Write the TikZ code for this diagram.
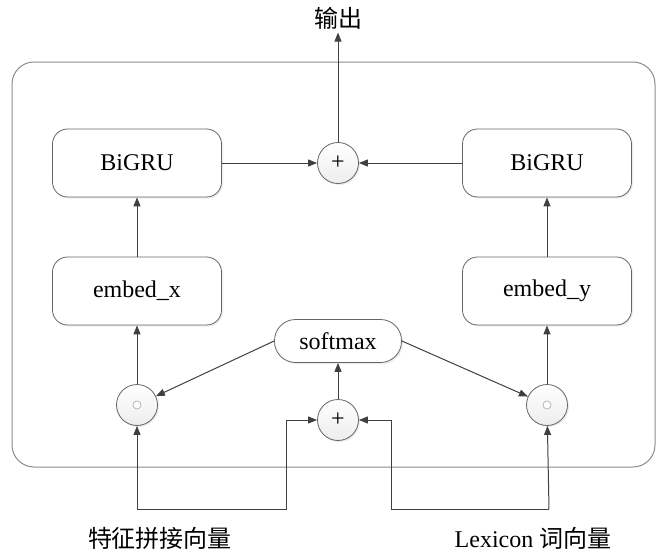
\documentclass[tikz,border=0pt]{standalone}
\usepackage{fontspec}
\setmainfont{Liberation Serif}
\newfontfamily\cjk{Noto Sans CJK SC}
\usetikzlibrary{arrows.meta,shadows}
\definecolor{ln}{HTML}{404040}
\begin{document}
\begin{tikzpicture}[x=1pt,y=-1pt,
  every node/.style={font=\fontsize{24}{28}\selectfont},
  rbox/.style={draw=ln!80, line width=0.8pt, rounded corners=15pt, minimum width=169pt, minimum height=68pt, fill=white, drop shadow={opacity=0.15, shadow xshift=1.5pt, shadow yshift=-1.5pt}},
  pill/.style={draw=ln!80, line width=0.8pt, rounded corners=21pt, minimum width=127pt, minimum height=43pt, fill=white, drop shadow={opacity=0.15, shadow xshift=1.5pt, shadow yshift=-1.5pt}},
  opc/.style={draw=ln!80, line width=0.8pt, circle, minimum size=41pt, inner sep=0pt, top color=white, bottom color=gray!14, drop shadow={opacity=0.15, shadow xshift=1.5pt, shadow yshift=-1.5pt}},
  arr/.style={draw=ln, line width=1pt, -{Triangle[length=9pt,width=7pt]}},
  lbl/.style={font=\fontsize{24}{28}\selectfont\cjk}
]
\useasboundingbox (0,0) rectangle (657,554);
\draw[draw=gray!90, line width=1pt, rounded corners=22pt] (12,62) rectangle (655,467);

\node[rbox] (g1) at (137,163) {BiGRU};
\node[rbox] (g2) at (547,163) {BiGRU};
\node[rbox] (e1) at (137,291) {embed\_x};
\node[rbox] (e2) at (547,291) {embed\_y};
\node[pill] (sm) at (338,341) {softmax};
\node[opc] (p1) at (338,163) {+};
\node[opc] (p2) at (338,420) {+};
\node[opc] (o1) at (137,405) {};
\node[opc] (o2) at (547,405) {};
\fill[white, draw=gray!70, line width=0.6pt] (o1.center) circle (4pt);
\fill[white, draw=gray!70, line width=0.6pt] (o2.center) circle (4pt);

\node[lbl] (out) at (338,18) {输出};
\node[lbl] (in1) at (160,538) {特征拼接向量};
\node (in2) at (533,538) {Lexicon {\cjk 词向量}};

\coordinate (la) at (137,509);
\coordinate (lb) at (286,509);
\coordinate (ra) at (549,509);
\coordinate (rb) at (391,509);

\draw[arr] (g1) -- (p1);
\draw[arr] (g2) -- (p1);
\draw[arr] (p1) -- (out);
\draw[arr] (e1) -- (g1);
\draw[arr] (e2) -- (g2);
\draw[arr] (o1) -- (e1);
\draw[arr] (o2) -- (e2);
\draw[arr] (sm.west) -- (o1);
\draw[arr] (sm.east) -- (o2);
\draw[arr] (p2) -- (sm);
\draw[arr] (la) -- (o1);
\draw[arr] (ra) -- (o2);
\draw[arr] (la) -- (lb) |- (p2);
\draw[arr] (ra) -- (rb) |- (p2);
\end{tikzpicture}
\end{document}
